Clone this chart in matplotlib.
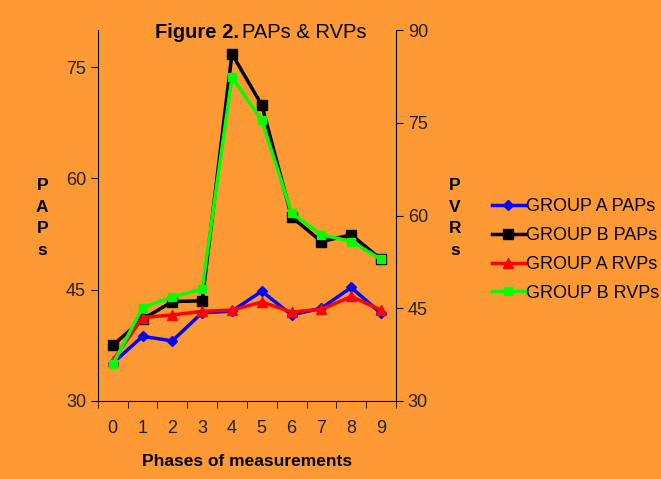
import matplotlib
matplotlib.use('Agg')
from matplotlib import pyplot as plt
import numpy as np

phases = [0, 1, 2, 3, 4, 5, 6, 7, 8, 9]
group_a_paps = [35.1, 38.7, 38.1, 41.9, 42.1, 44.8, 41.6, 42.5, 45.3, 41.8]
group_b_paps = [37.5, 41.0, 43.4, 43.5, 76.8, 69.9, 54.8, 51.5, 52.4, 49.1]
group_a_rvps = [36.5, 43.5, 43.9, 44.5, 44.7, 46.0, 44.4, 44.8, 46.9, 44.7]
group_b_rvps = [35.9, 45.1, 46.8, 48.1, 82.4, 75.4, 60.4, 56.9, 55.8, 52.9]

bg = '#FF9933'
plt.rcParams['font.family'] = ['Liberation Sans', 'DejaVu Sans']

fig = plt.figure(figsize=(6.61, 4.79), dpi=100, facecolor=bg)
ax = fig.add_axes([0.148, 0.163, 0.451, 0.774])
ax.set_facecolor(bg)
ax2 = ax.twinx()

x = np.array(phases)
l1, = ax.plot(x, group_a_paps, color='#0000FF', lw=2.5, marker='D', ms=5, label='GROUP A PAPs')
l2, = ax.plot(x, group_b_paps, color='black', lw=2.5, marker='s', ms=7, label='GROUP B PAPs')
l3, = ax2.plot(x, group_a_rvps, color='#FF0000', lw=2.5, marker='^', ms=7, label='GROUP A RVPs')
l4, = ax2.plot(x, group_b_rvps, color='#00FF00', lw=2.5, marker='s', ms=6, label='GROUP B RVPs')

ax.set_xlim(-0.5, 9.5)
ax.set_ylim(30, 80)
ax.set_yticks([30, 45, 60, 75])
ax2.set_ylim(30, 90)
ax2.set_yticks([30, 45, 60, 75, 90])

ax.set_xticks(phases)
ax.set_xticks(np.arange(-0.5, 10, 1), minor=True)
ax.tick_params(axis='x', which='major', length=0, pad=14, labelsize=13, labelcolor='#222222')
ax.tick_params(axis='x', which='minor', length=5, direction='out')
ax.tick_params(axis='y', length=5, direction='out', labelsize=13, labelcolor='#222222')
ax2.tick_params(axis='y', length=5, direction='out', labelsize=13, labelcolor='#222222')

for a in (ax, ax2):
    a.spines['top'].set_visible(False)
ax.spines['right'].set_visible(False)
ax2.spines['left'].set_visible(False)
ax2.spines['bottom'].set_visible(False)

ax.set_xlabel('Phases of measurements', fontsize=12.5, fontweight='bold', labelpad=12)

fig.text(0.064, 0.545, 'P\nA\nP\ns', fontsize=12.5, fontweight='bold', ha='center', va='center', linespacing=1.55)
fig.text(0.688, 0.545, 'P\nV\nR\ns', fontsize=12.5, fontweight='bold', ha='center', va='center', linespacing=1.55)

fig.text(0.3616, 0.933, 'Figure 2.', fontsize=14.5, fontweight='bold', ha='right', va='center')
fig.text(0.3656, 0.933, 'PAPs & RVPs', fontsize=14.5, ha='left', va='center')

fig.legend(handles=[l1, l2, l3, l4], loc='center left', bbox_to_anchor=(0.72, 0.478),
           frameon=False, fontsize=13, handlelength=1.8, handletextpad=0.1, labelspacing=0.65)

plt.savefig('out.png', dpi=100, facecolor=bg)
